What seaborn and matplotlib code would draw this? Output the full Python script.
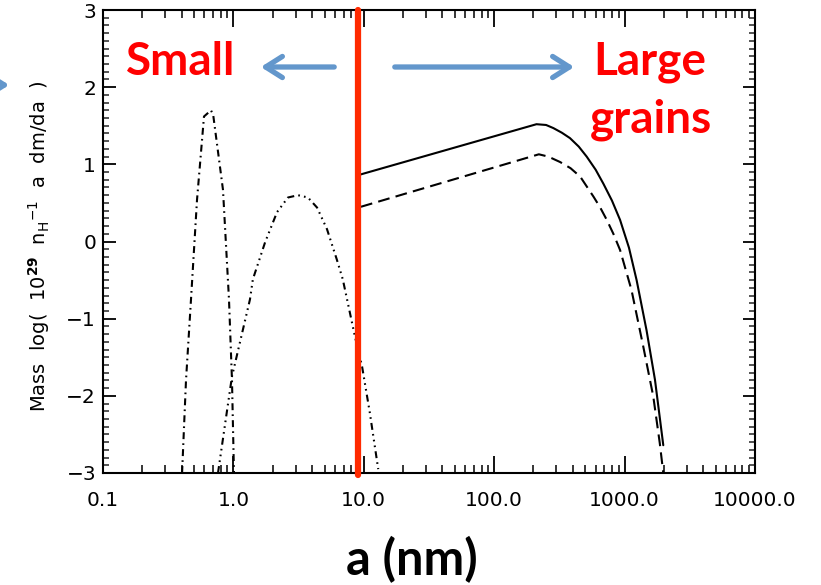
import numpy as np
import pandas as pd
import matplotlib
matplotlib.use("Agg")
import matplotlib.pyplot as plt
import seaborn as sns
from matplotlib.ticker import NullFormatter, MultipleLocator, LogLocator

# ---- data ----
pah_a = [0.404, 0.433, 0.473, 0.526, 0.595, 0.673, 0.70, 0.832, 0.925, 0.975, 1.01]
pah_y = [-3.0, -1.8, -0.75, 0.54, 1.62, 1.70, 1.64, 0.67, -0.75, -1.79, -3.0]

vsg_a = [0.762, 0.975, 1.34, 1.41, 1.75, 2.16, 2.62, 3.13, 3.73, 4.38, 5.22, 6.2, 6.9, 8.55, 9.7, 11.1, 12.9]
vsg_y = [-3.0, -1.75, -0.75, -0.49, -0.01, 0.38, 0.57, 0.60, 0.57, 0.44, 0.16, -0.23, -0.49, -1.23, -1.62, -2.21, -2.95]

big_a = [9.5, 211, 250, 284, 330, 381, 445, 512, 600, 687, 800, 923, 1080, 1236, 1473, 1709, 1980]
big_y = [0.87, 1.52, 1.51, 1.47, 1.41, 1.34, 1.23, 1.10, 0.93, 0.75, 0.53, 0.28, -0.08, -0.50, -1.15, -1.79, -2.64]

big2_a = [9.5, 220, 260, 320, 385, 457, 578, 650, 730, 820, 923, 1130, 1390, 1660, 1860, 1980]
big2_y = [0.45, 1.13, 1.10, 1.03, 0.95, 0.84, 0.58, 0.44, 0.28, 0.10, -0.11, -0.63, -1.36, -2.01, -2.61, -3.0]

split_a = 9.0
xtick_vals = [0.1, 1.0, 10.0, 100.0, 1000.0, 10000.0]
xtick_labels = ["0.1", "1.0", "10.0", "100.0", "1000.0", "10000.0"]
ytick_vals = [-3, -2, -1, 0, 1, 2, 3]

sns.set_theme(style="ticks")
plt.rcParams["font.family"] = ["DejaVu Sans"]
plt.rcParams["lines.scale_dashes"] = False

fig = plt.figure(figsize=(8.21, 5.85), dpi=100)
ax = fig.add_axes([103/821, 1-473/585, (755-103)/821, (473-10)/585])

df = pd.concat([
    pd.DataFrame({"a": pah_a, "y": pah_y, "s": "pah"}),
    pd.DataFrame({"a": vsg_a, "y": vsg_y, "s": "vsg"}),
    pd.DataFrame({"a": big_a, "y": big_y, "s": "big"}),
    pd.DataFrame({"a": big2_a, "y": big2_y, "s": "big2"}),
])
styles = {
    "pah": (0, (5, 3, 1.2, 3)),
    "vsg": (0, (5, 3, 1.2, 3, 1.2, 3, 1.2, 3)),
    "big": "-",
    "big2": (0, (8.5, 4.5)),
}
for key, ls in styles.items():
    sub = df[df["s"] == key]
    sns.lineplot(data=sub, x="a", y="y", ax=ax, color="black", lw=1.5,
                 estimator=None, sort=False, linestyle=ls, legend=False)

ax.set_xscale("log")
ax.set_xlim(0.1, 10000)
ax.set_ylim(-3, 3)
ax.set_xticks(xtick_vals)
ax.set_xticklabels(xtick_labels)
ax.xaxis.set_minor_locator(LogLocator(base=10, subs=np.arange(2, 10)))
ax.xaxis.set_minor_formatter(NullFormatter())
ax.set_yticks(ytick_vals)
ax.set_yticklabels([str(v).replace("-", "\u2212") for v in ytick_vals])
ax.yaxis.set_minor_locator(MultipleLocator(0.1))

ax.tick_params(axis="x", which="major", direction="in", length=12, width=1.3,
               top=True, bottom=True, pad=13, labelsize=14.5, colors="black")
ax.tick_params(axis="x", which="minor", direction="in", length=6, width=1.3,
               top=True, bottom=True)
ax.tick_params(axis="y", which="major", direction="in", length=9, width=1.3,
               left=True, right=True, pad=5, labelsize=14.5, colors="black")
ax.tick_params(axis="y", which="minor", direction="in", length=4.5, width=1.1,
               left=True, right=True)
for sp in ax.spines.values():
    sp.set_linewidth(1.5)
    sp.set_color("black")
    sp.set_visible(True)

ax.set_xlabel("")
ax.set_ylabel("")

# y axis label
fig.text(39/821, 1-246/585, r"Mass  log(  10$^{\mathbf{29}}$  n$_\mathrm{H}$$^{-1}$  a  dm/da  )",
         rotation=90, ha="center", va="center", fontsize=14, color="black")

# red divider
ax.axvline(split_a, ymin=-0.005, ymax=1.0, color="#ff2a00", lw=4.5, clip_on=False, zorder=5)

# x label
fig.text(412/821, 1-560/585, "a (nm)", ha="center", va="center", color="black",
         fontsize=35, fontweight="bold", family="Lato")

red = "#ff0000"
fig.text(181/821, 1-62/585, "Small", ha="center", va="center", color=red,
         fontsize=33, fontweight="bold", family="Lato")
fig.text(650/821, 1-62/585, "Large", ha="center", va="center", color=red,
         fontsize=33, fontweight="bold", family="Lato")
fig.text(651/821, 1-120/585, "grains", ha="center", va="center", color=red,
         fontsize=33, fontweight="bold", family="Lato")

blue = "#6397cc"
def farrow(x0, x1, y):
    fig.patches.append(matplotlib.patches.FancyArrowPatch(
        (x0/821, 1-y/585), (x1/821, 1-y/585), transform=fig.transFigure,
        arrowstyle="->,head_length=0.6,head_width=0.38", color=blue, lw=3.8,
        mutation_scale=20))

farrow(337, 258, 67)
farrow(392, 577, 67)
farrow(-30, 12, 85)

fig.savefig("out.png", dpi=100)
